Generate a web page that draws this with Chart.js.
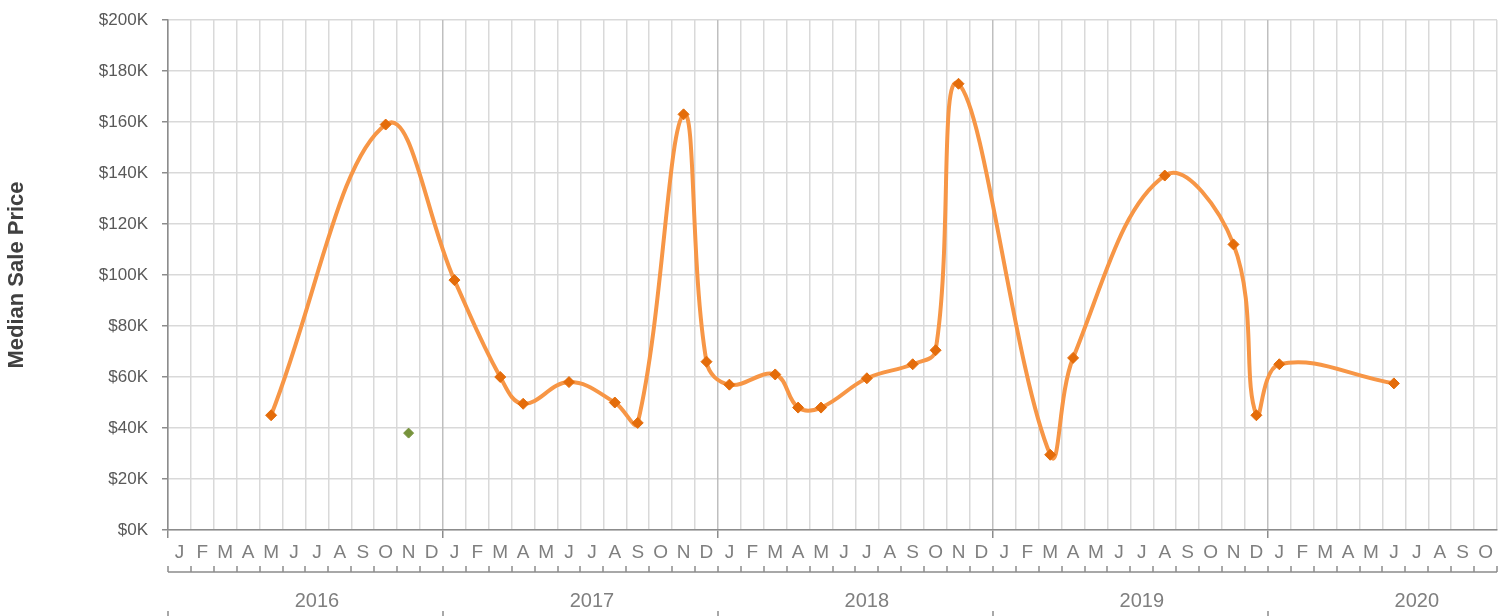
<!DOCTYPE html>
<html>
<head>
<meta charset="utf-8">
<script src="https://cdn.jsdelivr.net/npm/chart.js@4/dist/chart.umd.min.js"></script>
<style>
  html, body { margin: 0; padding: 0; background: #fff; }
  #wrap { width: 1511px; height: 616px; }
</style>
</head>
<body>
<div id="wrap"><canvas id="canvas"></canvas></div>
<script>
// months Jan 2016 .. Oct 2020
const monthLabels = [
  'J','F','M','A','M','J','J','A','S','O','N','D',
  'J','F','M','A','M','J','J','A','S','O','N','D',
  'J','F','M','A','M','J','J','A','S','O','N','D',
  'J','F','M','A','M','J','J','A','S','O','N','D',
  'J','F','M','A','M','J','J','A','S','O'
];
const years = ['2016', '2017', '2018', '2019', '2020'];
// year text sits under July of each year
const yearLabels = monthLabels.map((m, i) => (i % 12 === 6 ? years[Math.floor(i / 12)] : ''));

const medianPrice = [
  null, null, null, null, 45000, null, null, null, null, 159000, null, null,
  98000, null, 60000, 49500, null, 58000, null, 50000, 42000, null, 163000, 66000,
  57000, null, 61000, 48000, 48000, null, 59500, null, 65000, 70500, 175000, null,
  null, null, 29500, 67500, null, null, null, 139000, null, null, 112000, 45000,
  65000, null, null, null, null, 57500, null, null, null, null
];
const otherPrice = monthLabels.map((m, i) => (i === 10 ? 38000 : null));

const yTicks = [0, 20000, 40000, 60000, 80000, 100000, 120000, 140000, 160000, 180000, 200000];

const axisGray = '#8c8c8c';

// bracket under the month letters + year separators
const bracketPlugin = {
    id: 'bracket',
    afterDraw(chart) {
        const ctx = chart.ctx;
        const x = chart.scales.x;
        const yLine = 572;
        ctx.save();
        ctx.strokeStyle = axisGray;
        ctx.lineWidth = 1.5;
        ctx.beginPath();
        ctx.moveTo(x.getPixelForValue(-0.5), yLine);
        ctx.lineTo(x.getPixelForValue(monthLabels.length - 0.5), yLine);
        for (let i = 0; i <= monthLabels.length; i++) {
            const px = Math.round(x.getPixelForValue(i - 0.5));
            ctx.moveTo(px, yLine);
            ctx.lineTo(px, yLine - 6);
        }
        for (let i = 0; i < monthLabels.length; i += 12) {
            const px = Math.round(x.getPixelForValue(i - 0.5));
            ctx.moveTo(px, 611);
            ctx.lineTo(px, 616);
        }
        ctx.stroke();
        ctx.restore();
    }
};

const data = {
    labels: monthLabels,
    datasets: [
        {
            label: 'Median Sale Price',
            data: medianPrice,
            borderColor: '#f79646',
            borderWidth: 4,
            backgroundColor: '#e46c0a',
            pointBackgroundColor: '#e46c0a',
            pointBorderColor: '#e46c0a',
            pointStyle: 'rectRot',
            pointRadius: 5.5,
            pointBorderWidth: 1,
            tension: 0.4,
            spanGaps: true,
            fill: false
        },
        {
            label: 'Other',
            data: otherPrice,
            showLine: false,
            backgroundColor: '#77933c',
            pointBackgroundColor: '#77933c',
            pointBorderColor: '#77933c',
            pointStyle: 'rectRot',
            pointRadius: 5,
            pointBorderWidth: 1
        }
    ]
};

const config = {
    type: 'line',
    data: data,
    plugins: [bracketPlugin],
    options: {
        responsive: true,
        maintainAspectRatio: false,
        animation: false,
        devicePixelRatio: 1,
        layout: { padding: { top: 20, right: 14, left: 0, bottom: 0 } },
        plugins: {
            legend: { display: false },
            tooltip: { enabled: false }
        },
        scales: {
            y: {
                min: 0,
                max: 200000,
                afterFit: (s) => { s.width = 168; s.paddingTop = 0; s.paddingBottom = 0; },
                afterBuildTicks: (s) => { s.ticks = yTicks.map(v => ({ value: v })); },
                ticks: {
                    padding: 14,
                    color: '#595959',
                    font: { family: 'Liberation Sans', size: 17 },
                    callback: (v) => '$' + (v / 1000) + 'K'
                },
                grid: {
                    color: '#d9d9d9',
                    lineWidth: 1.5,
                    tickColor: axisGray,
                    tickLength: 6
                },
                border: { color: axisGray, width: 1.5 },
                title: {
                    display: true,
                    text: 'Median Sale Price',
                    color: '#404040',
                    font: { family: 'Liberation Sans', size: 22, weight: 'bold' },
                    padding: { top: 4, bottom: 0 }
                }
            },
            x: {
                offset: true,
                afterFit: (s) => { s.height = 42; },
                ticks: {
                    autoSkip: false,
                    maxRotation: 0,
                    padding: 3,
                    color: '#7f7f7f',
                    font: { family: 'Liberation Sans', size: 19 }
                },
                grid: {
                    offset: true,
                    lineWidth: 1.5,
                    tickLength: 8,
                    color: (c) => (c.index % 12 === 0 ? '#bfbfbf' : '#d9d9d9'),
                    tickColor: (c) => (c.index % 12 === 0 && c.index < monthLabels.length ? axisGray : 'rgba(0,0,0,0)')
                },
                border: { color: axisGray, width: 1.5 }
            },
            x2: {
                type: 'category',
                labels: yearLabels,
                position: 'bottom',
                offset: true,
                afterFit: (s) => { s.height = 44; },
                ticks: {
                    autoSkip: false,
                    maxRotation: 0,
                    padding: 17,
                    color: '#7f7f7f',
                    font: { family: 'Liberation Sans', size: 20 }
                },
                grid: { display: false, drawTicks: false },
                border: { display: false }
            }
        }
    }
};

new Chart(document.getElementById('canvas'), config);
</script>
</body>
</html>
